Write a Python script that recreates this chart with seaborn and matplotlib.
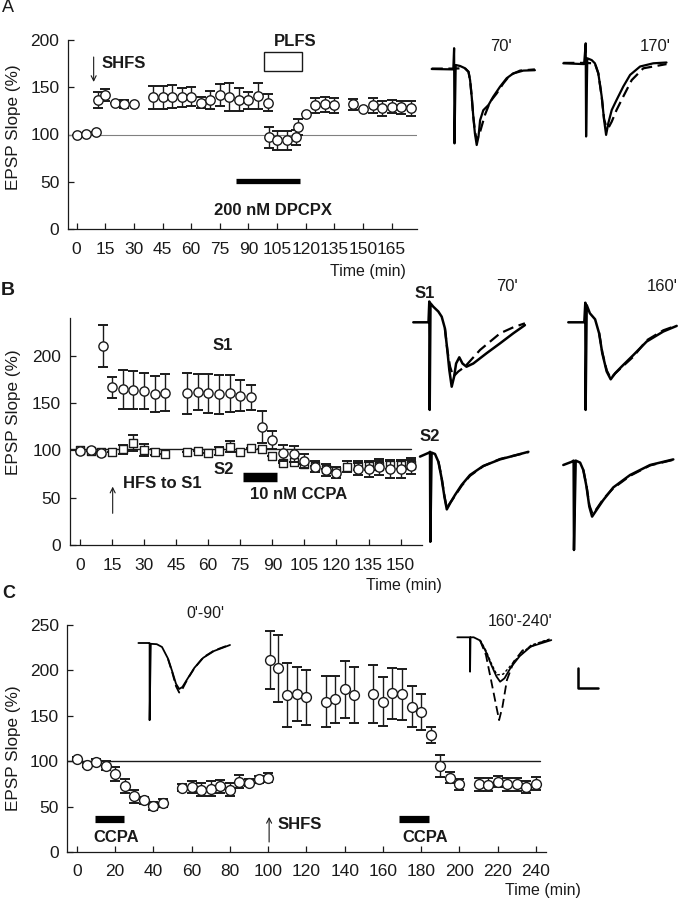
import matplotlib
matplotlib.use("Agg")
import matplotlib.pyplot as plt
from matplotlib.patches import Rectangle
import pandas as pd
import seaborn as sns

W, H = 682, 900

# ---------------- panel A: SHFS, then PLFS in 200 nM DPCPX
A_TIME = [0, 5, 10, 11, 15, 20, 25, 30,
          40, 45, 50, 55, 60, 65, 70, 75, 80, 85, 90, 95, 100,
          101, 105, 110, 115, 116, 120, 125, 130, 135,
          145, 150, 155, 160, 165, 170, 175]
A_SLOPE = [99.5, 101, 103, 136.5, 141.8, 133.6, 132.3, 132.3,
           139.3, 139.3, 140, 139.3, 140, 133.6, 136.5, 141.8, 140, 137, 136.5, 141, 133.6,
           97, 94, 94, 97, 108, 122, 131, 132, 131,
           132, 126.6, 131, 127.6, 129.6, 128.6, 127.6]
A_SEM = [0, 0, 0, 8, 6, 0, 4, 0,
         12, 12, 12, 10, 10, 6, 10, 12, 15, 12, 9, 14, 9,
         11, 10, 10, 8, 8, 0, 8, 8, 8,
         6, 0, 8, 8, 7, 7, 8]
A_SHFS = 8.9
A_PLFS = (98.3, 118.2)
A_DPCPX = (83.3, 117)

# ---------------- panel B: HFS to S1, 10 nM CCPA
B_S1_TIME = [0, 5, 10, 11, 15, 20, 25, 30, 35, 40,
             50, 55, 60, 65, 70, 75, 80, 85, 90, 95, 100, 105, 110, 115, 120,
             130, 135, 140, 145, 150, 155]
B_S1_SLOPE = [99.7, 100.4, 97.6, 210.4, 166.7, 164.5, 163.8, 163.1, 159.6, 161,
              160.3, 161.7, 160.3, 159.6, 160.3, 157.9, 156, 125, 111, 97.6, 96.2, 88.8, 82.8, 79.3, 76.5,
              80, 80, 82.1, 80, 80, 83.5]
B_S1_SEM = [0, 0, 0, 22, 11, 20.6, 20, 19, 19.5, 19.5,
            22, 19, 20.4, 20.6, 19.4, 16.7, 13, 17, 9.5, 8.5, 8, 7, 6, 6, 5.6,
            6.5, 7.8, 8.5, 9, 9, 8]
B_S2_TIME = [0, 5, 10, 15, 20, 25, 30, 35, 40,
             50, 55, 60, 65, 70, 75, 80, 85, 90, 95, 100,
             105, 110, 115, 120, 125, 130, 135, 140, 145, 150, 155]
B_S2_SLOPE = [100, 99, 98, 98, 101, 108, 100.5, 98, 95.8,
              98.5, 99, 96.8, 99.4, 104, 98.7, 103, 101.5, 94, 87, 88,
              86, 84, 80, 78, 82.8, 84, 84, 84, 85, 85, 85]
B_S2_SEM = [0, 0, 0, 0, 5, 8.5, 6, 3, 0,
            0, 0, 0, 4, 6, 0, 0, 0, 0, 0, 0,
            0, 0, 0, 0, 6, 5, 5, 5, 5, 5, 5]
B_HFS = 15.3
B_CCPA = (76.4, 92)

# ---------------- panel C: CCPA, SHFS, CCPA
C_TIME = [0, 5, 10, 15, 20, 25, 30, 35, 40, 45,
          55, 60, 65, 70, 75, 80, 85, 90, 95, 100,
          101, 105, 110, 115, 120,
          130, 135, 140, 145,
          155, 160, 165, 170, 175, 180, 185, 190, 195, 200,
          210, 215, 220, 225, 230, 235, 240]
C_SLOPE = [102.2, 95.6, 99.3, 94.9, 85.7, 72.8, 61.4, 57, 50.7, 54,
           71, 71.7, 68.8, 69.9, 72.4, 68.8, 77.6, 76.5, 80.1, 82,
           211.4, 202.2, 172.8, 173.9, 170.2,
           165.4, 168, 179, 172.8,
           173.9, 165.4, 174.6, 173.9, 159.9, 154.4, 128.7, 94.9, 81.6, 74.6,
           74.6, 74.3, 77.2, 74.6, 74.6, 71.7, 75.4]
C_SEM = [2, 2, 3, 5, 8, 8, 7, 4, 4, 4,
         4, 7, 7, 8, 7, 7, 7, 4, 4, 5,
         32, 37, 35, 30, 30,
         28, 26, 31, 31,
         32, 27, 28, 28, 22.5, 20, 9, 12, 6, 6,
         7, 7, 6, 7, 7, 7, 7]
C_SHFS = 100.5
C_CCPA_1 = (9.2, 24.6)
C_CCPA_2 = (168.3, 183.9)

# ---------------- sample fEPSP sweeps (ms, mV); dashed = baseline sweep
A70_SOLID = [(0, 0), (5.4, -0.01), (5.6, 0.52), (5.7, -1.86), (6.0, 0.1), (7.1, 0.075), (8.3, 0.02),
             (9.2, -0.07), (9.6, -0.28), (10.0, -0.69), (10.4, -1.19), (10.8, -1.61), (11.25, -1.9),
             (11.7, -1.69), (12.1, -1.28), (12.9, -1.03), (14.2, -0.9), (15.4, -0.69), (17.1, -0.44),
             (18.75, -0.23), (20.4, -0.11), (22.9, -0.04), (25.8, -0.03)]
A70_DASH = [(0, 0.01), (5.3, 0.01), (8.3, 0.02), (9.2, -0.07), (9.6, -0.28), (10.0, -0.69),
            (10.4, -1.19), (10.8, -1.55), (11.25, -1.78), (12.1, -1.57), (13.3, -1.15), (14.6, -0.82),
            (16.25, -0.61), (17.9, -0.36), (19.6, -0.15), (22.1, -0.04), (25.8, -0.01)]
A170_SOLID = [(0, 0), (5.2, -0.02), (5.6, 0.5), (5.7, -1.83), (6.0, 0.125), (7.1, 0.08), (7.9, 0),
              (8.75, -0.25), (9.6, -0.83), (10.2, -1.42), (10.7, -1.79), (11.25, -1.5), (12.1, -1.17),
              (13.3, -0.92), (15.0, -0.58), (16.7, -0.29), (19.2, -0.08), (22.5, 0), (25.8, 0.02)]
A170_DASH = [(0, 0.01), (5.1, 0.01), (7.9, 0), (8.75, -0.25), (9.6, -0.83), (10.2, -1.4), (10.8, -1.6),
             (11.25, -1.62), (12.1, -1.46), (13.3, -1.17), (15.0, -0.83), (17.1, -0.42),
             (20.0, -0.125), (25.8, -0.02)]
B1_70_SOLID = [(0, 0), (3.8, 0), (4.0, 0.52), (4.1, -2.19), (4.3, 0.475), (5.0, 0.39), (6.25, 0.27),
               (7.1, 0.14), (7.9, -0.15), (8.5, -0.69), (9.0, -1.19), (9.6, -1.61), (10.2, -1.36),
               (10.7, -1.03), (11.5, -0.875), (12.3, -1.03), (13.3, -1.11), (15.0, -1.03),
               (18.3, -0.775), (21.7, -0.525), (25.0, -0.275), (27.9, -0.07)]
B1_70_DASH = [(7.9, -0.15), (8.5, -0.69), (9.2, -1.11), (10.0, -1.36), (11.25, -1.23), (12.9, -1.11),
              (16.7, -0.69), (21.7, -0.275), (25.0, -0.125), (27.9, -0.025)]
B1_160_SOLID = [(0, 0), (4.0, 0), (4.25, 0.49), (4.33, -2.19), (4.6, 0.43), (5.4, 0.225), (6.7, 0.075),
                (7.7, -0.275), (8.5, -0.775), (9.6, -1.23), (10.6, -1.425), (11.7, -1.275),
                (13.3, -1.11), (16.25, -0.82), (19.6, -0.48), (23.75, -0.23), (27.1, -0.09)]
B1_160_DASH = [(7.7, -0.26), (8.5, -0.75), (9.6, -1.2), (10.6, -1.40), (11.7, -1.28), (13.3, -1.13),
               (16.25, -0.86), (19.6, -0.45), (23.75, -0.2), (27.1, -0.08)]
B2_70_SOLID = [(0, -0.04), (2.3, 0.06), (2.5, 0.08), (2.58, -2.17), (2.9, 0.06), (3.75, 0.025),
               (4.6, -0.17), (5.4, -0.58), (6.1, -1.04), (6.7, -1.36), (7.5, -1.21), (8.75, -1.0),
               (10.4, -0.75), (12.5, -0.5), (15.8, -0.275), (20.0, -0.11), (27.1, 0.08)]
B2_70_DASH = [(4.6, -0.16), (5.4, -0.56), (6.1, -1.02), (6.7, -1.33), (7.5, -1.2), (8.75, -1.02),
              (10.4, -0.77), (12.5, -0.52), (15.8, -0.28), (20.0, -0.1), (27.1, 0.07)]
B2_160_SOLID = [(0, 0), (2.1, 0.08), (2.58, 0.11), (2.67, -2.125), (3.1, 0.11), (4.2, 0.06),
                (5.0, -0.125), (5.8, -0.54), (6.5, -1.04), (7.2, -1.29), (8.3, -1.125), (10.0, -0.875),
                (12.5, -0.56), (16.7, -0.25), (21.7, 0), (27.5, 0.14)]
B2_160_DASH = [(5.0, -0.12), (5.8, -0.52), (6.5, -1.0), (7.3, -1.22), (8.3, -1.1), (10.0, -0.85),
               (12.5, -0.58), (16.7, -0.27), (21.7, -0.01), (27.5, 0.13)]
C1_SOLID = [(0, 0), (2.75, 0), (2.8, 0), (2.8, -1.93), (3.1, -0.02), (4.6, -0.03), (5.9, -0.1),
            (7.4, -0.39), (8.5, -0.725), (9.4, -1.02), (10.2, -1.15), (11.0, -1.1), (12.3, -0.89),
            (14.0, -0.62), (16.2, -0.37), (18.9, -0.2), (22.9, -0.05)]
C1_DASH = [(7.4, -0.4), (8.5, -0.75), (9.4, -1.08), (10.2, -1.24), (11.0, -1.15), (12.3, -0.9),
           (14.0, -0.63), (16.2, -0.36), (18.9, -0.19), (22.9, -0.04)]
C2_SOLID = [(0, 0), (2.97, 0), (3.19, 0), (3.19, -0.86), (3.3, 0), (4.1, 0), (5.7, -0.08),
            (7.15, -0.36), (8.5, -0.69), (9.8, -0.98), (10.7, -1.11), (11.8, -1.025), (13.4, -0.75),
            (15.6, -0.47), (18.4, -0.23), (23.5, -0.07)]
C2_DASH = [(5.7, -0.08), (7.15, -0.44), (8.5, -1.1), (9.6, -1.65), (10.45, -2.07), (11.3, -1.73),
           (12.4, -1.07), (14.1, -0.61), (16.3, -0.33), (20.1, -0.15), (23.5, -0.05)]
C2_DOT = [(5.7, -0.07), (7.15, -0.33), (8.5, -0.65), (9.9, -0.94), (11.5, -0.92), (13.4, -0.7),
          (15.6, -0.45), (18.4, -0.2), (23.5, -0.03)]
SCALE_MS = 5
SCALE_MV = 0.5

sns.set_theme(style="ticks")
plt.rcParams["font.family"] = ["Liberation Sans", "DejaVu Sans"]
NARROW = ["Liberation Sans Narrow", "Liberation Sans", "DejaVu Sans"]
INK = "#1a1a1a"

fig = plt.figure(figsize=(W / 100, H / 100), dpi=100, facecolor="white")


def px_rect(left, top, right, bottom):
    return [left / W, 1 - bottom / H, (right - left) / W, (bottom - top) / H]


def style_axes(ax, xticks, yticks, xlim, ylim, tick_family=None):
    sns.despine(ax=ax)
    for s in ("left", "bottom"):
        ax.spines[s].set_linewidth(0.9)
        ax.spines[s].set_color(INK)
    ax.set_xlim(xlim)
    ax.set_ylim(ylim)
    ax.set_xticks(xticks)
    ax.set_yticks(yticks)
    fam = tick_family or plt.rcParams["font.family"]
    ax.set_xticklabels([str(t) for t in xticks], fontfamily=fam)
    ax.set_yticklabels([str(t) for t in yticks], fontfamily=fam)
    ax.tick_params(direction="in", length=4.5, width=0.9, colors=INK, labelsize=12.5)
    ax.tick_params(axis="x", pad=9)
    ax.tick_params(axis="y", pad=6)
    ax.set_facecolor("none")
    ax.grid(False)


def plot_series(ax, t, v, err, marker="o", size=44, z=3):
    ax.errorbar(t, v, yerr=err, fmt="none", ecolor=INK, elinewidth=1.0,
                capsize=3.6, capthick=1.4, zorder=z - 1)
    sns.scatterplot(x=t, y=v, marker=marker, s=size, color="white", edgecolor=INK,
                    linewidth=1.0, ax=ax, zorder=z, legend=False)


def label_axes(ax, left, right, bottom, top, ylab_y, xlab_x, xlab_top):
    ax.set_ylabel("EPSP Slope (%)", fontsize=12.3, color=INK)
    ax.yaxis.set_label_coords((21 - left) / (right - left), (bottom - ylab_y) / (bottom - top))
    ax.set_xlabel("Time (min)", fontsize=11.5, color=INK)
    ax.xaxis.set_label_coords((xlab_x - left) / (right - left), -(xlab_top - bottom) / (bottom - top))


def bold(ax, x, y, s, ha="center"):
    ax.text(x, y, s, fontsize=12, fontweight="bold", ha=ha, va="center", color=INK)


def arrow(ax, x, tip, tail):
    ax.annotate("", xy=(x, tip), xytext=(x, tail),
                arrowprops=dict(arrowstyle="->", lw=0.8, color=INK, shrinkA=0, shrinkB=0,
                                mutation_scale=9))


def drug_bar(ax, span, y, lw):
    ax.plot(list(span), [y, y], color="black", lw=lw, solid_capstyle="butt")


# ---- panel A
axA = fig.add_axes(px_rect(67.7, 40, 417, 229))
style_axes(axA, list(range(0, 166, 15)), [0, 50, 100, 150, 200], (-4.7, 178.3), (0, 200))
axA.axhline(100, color="#808080", lw=0.8, zorder=1)
plot_series(axA, A_TIME, A_SLOPE, A_SEM, size=46)
arrow(axA, A_SHFS, 155.6, 182)
axA.text(A_SHFS + 4.2, 175, "SHFS", fontsize=12, fontweight="bold", va="center", color=INK)
axA.add_patch(Rectangle((A_PLFS[0], 167.6), A_PLFS[1] - A_PLFS[0], 19.9, fill=False,
                        lw=1.0, edgecolor=INK, clip_on=False))
bold(axA, 114.4, 198, "PLFS")
drug_bar(axA, A_DPCPX, 50.8, 3.8)
bold(axA, 102.7, 19.4, "200 nM DPCPX")
label_axes(axA, 67.7, 417, 229, 40, 127, 368.4, 264)

# ---- panel B
axB = fig.add_axes(px_rect(69.5, 318, 422, 545))
style_axes(axB, list(range(0, 151, 15)), [0, 50, 100, 150, 200], (-4.9, 160), (0, 240))
axB.plot([-4.9, 155], [101, 101], color=INK, lw=1.0, zorder=1)
plot_series(axB, B_S2_TIME, B_S2_SLOPE, B_S2_SEM, marker="s", size=38, z=3)
plot_series(axB, B_S1_TIME, B_S1_SLOPE, B_S1_SEM, marker="o", size=44, z=5)
bold(axB, 66.8, 211.4, "S1")
bold(axB, 67.1, 80, "S2")
drug_bar(axB, B_CCPA, 71.7, 6.8)
bold(axB, 79.6, 52.9, "10 nM CCPA", ha="left")
arrow(axB, B_HFS, 61.7, 33.5)
bold(axB, B_HFS + 5, 64.5, "HFS to S1", ha="left")
label_axes(axB, 69.5, 422, 545, 318, 412, 404, 578)

# ---- panel C
axC = fig.add_axes(px_rect(67, 625, 546, 852))
style_axes(axC, list(range(0, 241, 20)), [0, 50, 100, 150, 200, 250], (-5.2, 245.3), (0, 250),
           tick_family=NARROW)
axC.plot([-5.2, 242], [100, 100], color=INK, lw=1.0, zorder=1)
plot_series(axC, C_TIME, C_SLOPE, C_SEM, size=50)
drug_bar(axC, C_CCPA_1, 36, 5.2)
drug_bar(axC, C_CCPA_2, 36, 5.2)
bold(axC, 20.7, 16.5, "CCPA")
bold(axC, 182.3, 16.5, "CCPA")
arrow(axC, C_SHFS, 38.6, 11)
bold(axC, C_SHFS + 4.5, 30.5, "SHFS", ha="left")
label_axes(axC, 67, 546, 852, 625, 748, 542.5, 883)

# ---- sweep insets: origin (0 ms, 0 mV) placed at a pixel position
PX_PER_MS = 4.0
PX_PER_MV = 40.0


def trace_axes(ox, oy, xlim=(-1, 28.5), ylim=(-2.4, 0.8)):
    rect = px_rect(ox + xlim[0] * PX_PER_MS, oy - ylim[1] * PX_PER_MV,
                   ox + xlim[1] * PX_PER_MS, oy - ylim[0] * PX_PER_MV)
    ax = fig.add_axes(rect)
    ax.set_xlim(xlim)
    ax.set_ylim(ylim)
    ax.set_axis_off()
    return ax


def draw_trace(ax, pts, style="-", lw=1.6):
    df = pd.DataFrame(pts, columns=["ms", "mv"])
    sns.lineplot(data=df, x="ms", y="mv", sort=False, estimator=None, color="black",
                 lw=lw, linestyle=style, ax=ax, legend=False)


DASH = (0, (5, 2.5))
DOT = (0, (2, 1.5))

ax = trace_axes(431.7, 69)
draw_trace(ax, A70_DASH, DASH)
draw_trace(ax, A70_SOLID)
ax = trace_axes(563.3, 63.3)
draw_trace(ax, A170_DASH, DASH)
draw_trace(ax, A170_SOLID)

ax = trace_axes(413.3, 322.3)
draw_trace(ax, B1_70_DASH, DASH)
draw_trace(ax, B1_70_SOLID, lw=1.8)
ax = trace_axes(568.3, 322.3)
draw_trace(ax, B1_160_DASH, DASH)
draw_trace(ax, B1_160_SOLID, lw=1.8)
ax = trace_axes(420, 455)
draw_trace(ax, B2_70_DASH, DASH)
draw_trace(ax, B2_70_SOLID, lw=1.8)
ax = trace_axes(563.3, 465)
draw_trace(ax, B2_160_DASH, DASH)
draw_trace(ax, B2_160_SOLID, lw=1.8)

ax = trace_axes(138.4, 643)
draw_trace(ax, C1_DASH, DASH, lw=1.3)
draw_trace(ax, C1_SOLID, lw=1.3)
ax = trace_axes(457.3, 637.3)
draw_trace(ax, C2_DASH, DASH, lw=1.3)
draw_trace(ax, C2_DOT, DOT, lw=1.0)
draw_trace(ax, C2_SOLID, lw=1.3)

# scale bar
ax = trace_axes(578, 688, xlim=(-1, 8), ylim=(-0.2, 0.8))
draw_trace(ax, [(0, SCALE_MV), (0, 0), (SCALE_MS, 0)], lw=1.8)


# ---- figure text
def ftext(px, py, s, **kw):
    kw.setdefault("ha", "center")
    kw.setdefault("va", "center")
    kw.setdefault("color", INK)
    fig.text(px / W, 1 - py / H, s, **kw)


ftext(8, 8, "A", fontsize=13)
ftext(8, 291, "B", fontsize=14, fontweight="bold")
ftext(9, 593, "C", fontsize=13, fontweight="bold")
ftext(500.7, 46.7, "70'", fontsize=12)
ftext(655, 46.7, "170'", fontsize=12)
ftext(425, 293.3, "S1", fontsize=12, fontweight="bold")
ftext(506.7, 286.7, "70'", fontsize=12)
ftext(661.7, 286.7, "160'", fontsize=12)
ftext(430, 436.7, "S2", fontsize=12, fontweight="bold")
ftext(205.4, 613, "0'-90'", fontsize=11.5)
ftext(519.8, 621.7, "160'-240'", fontsize=11.5)

fig.savefig("out.png", dpi=100, facecolor="white")
